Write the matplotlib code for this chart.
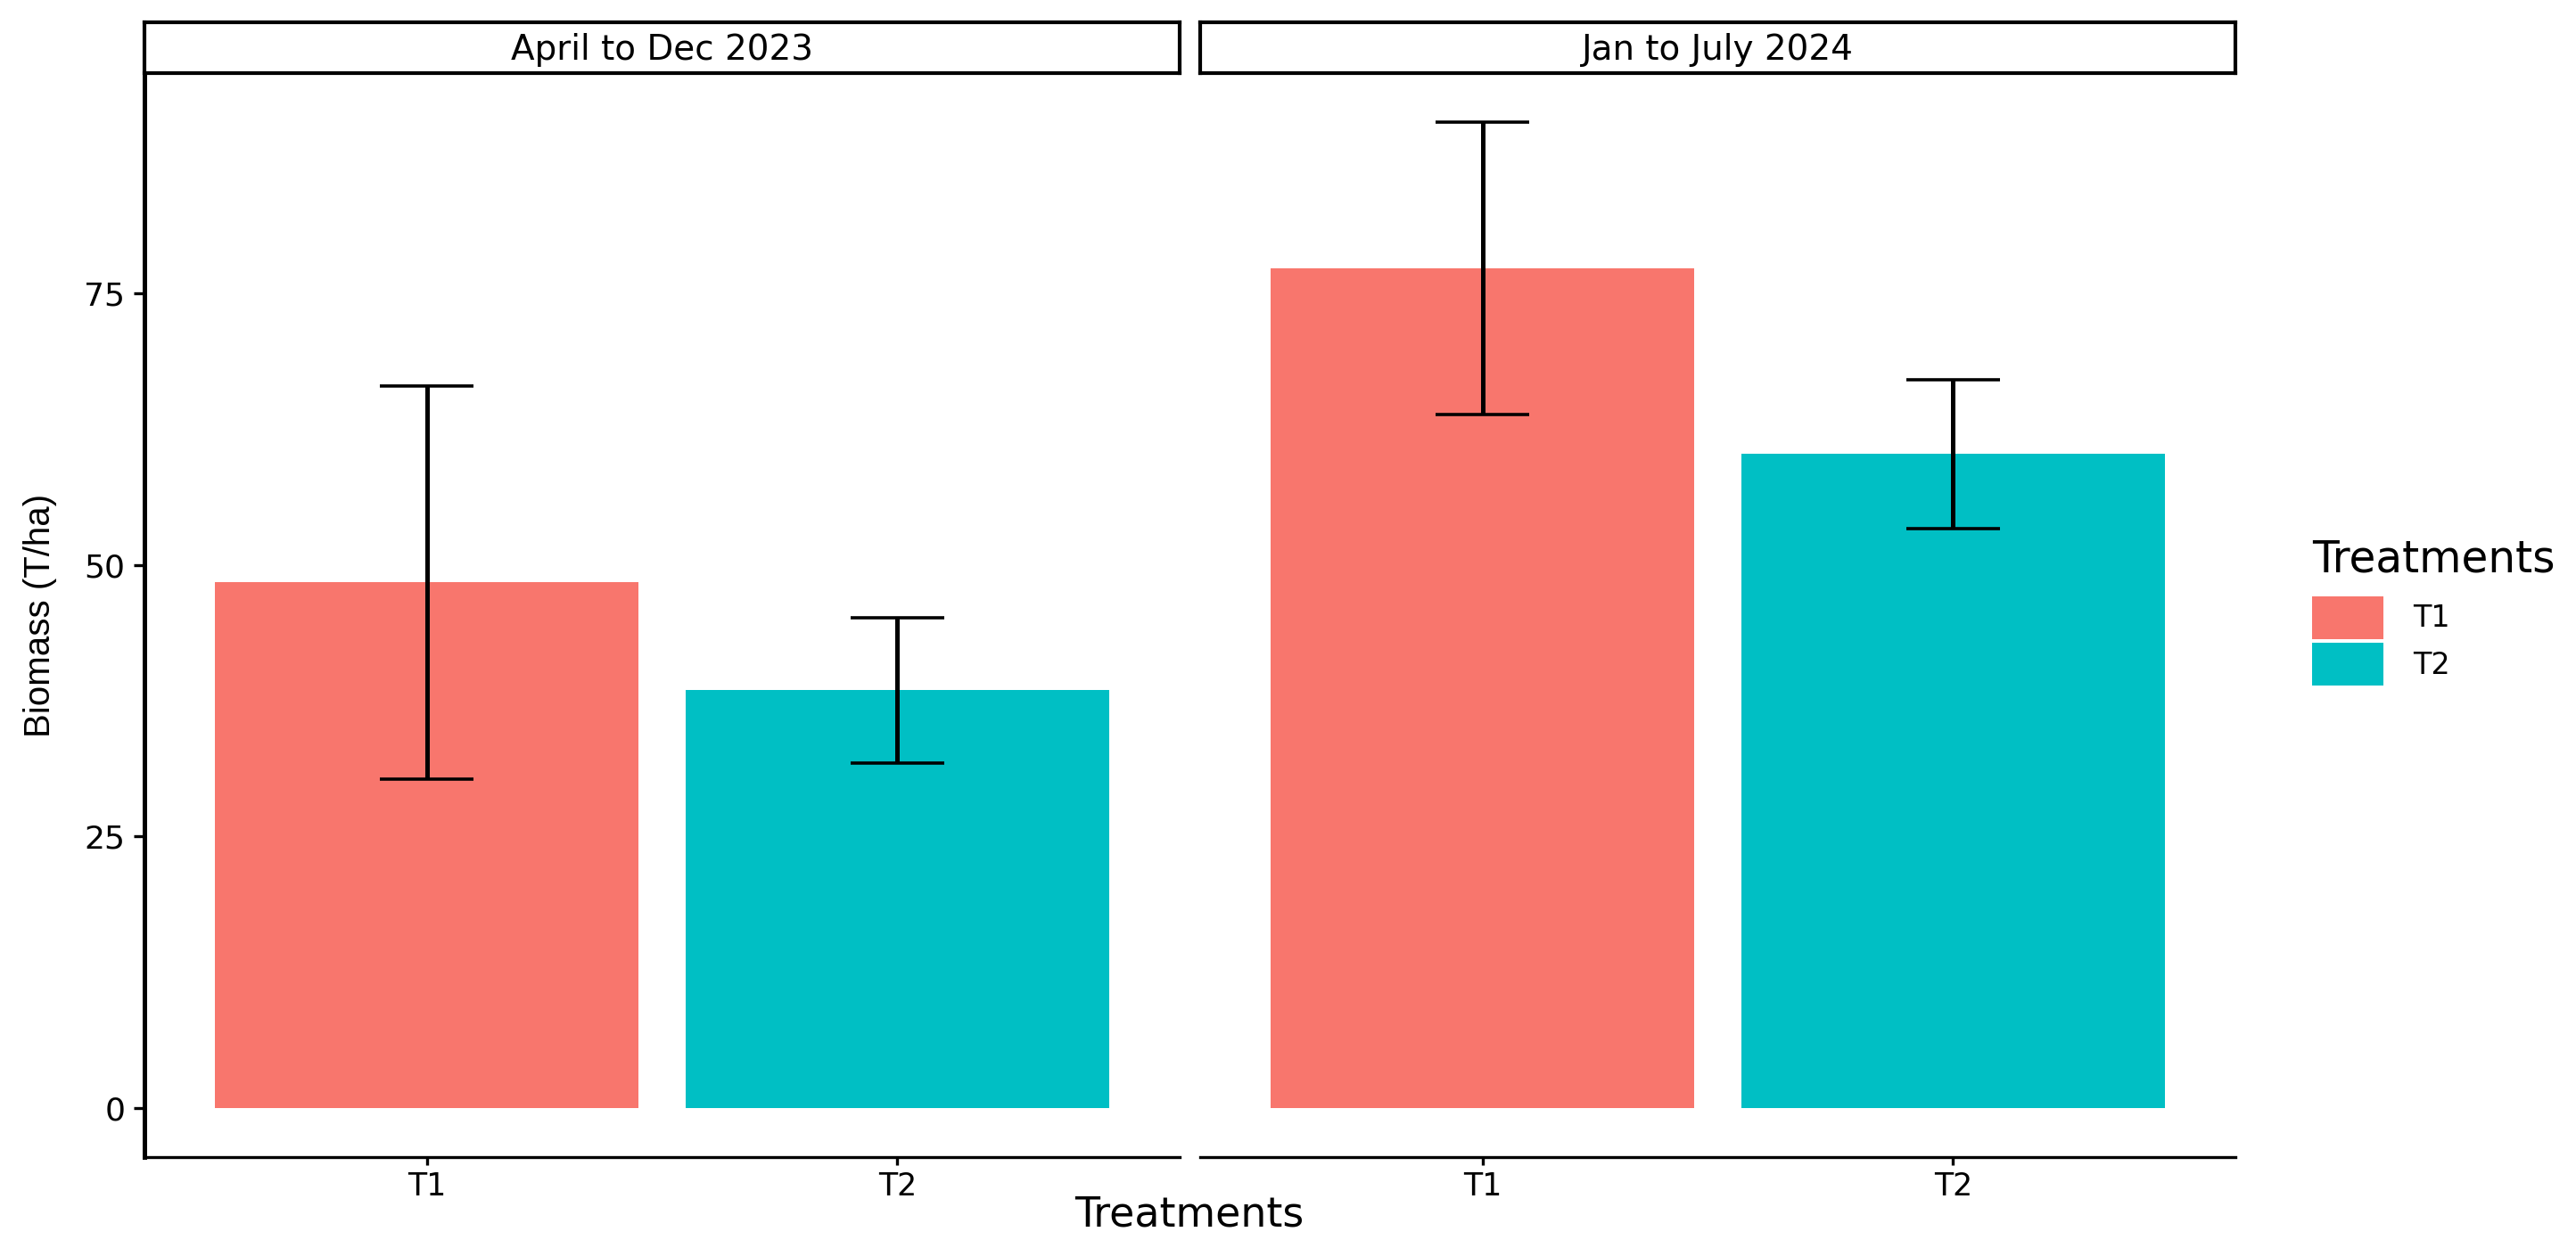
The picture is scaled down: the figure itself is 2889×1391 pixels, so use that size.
import matplotlib
matplotlib.use("Agg")
import matplotlib.pyplot as plt
from matplotlib.patches import Patch

# data
periods = ['April to Dec 2023', 'Jan to July 2024']
treatments = ['T1', 'T2']
mean_2023 = [48.4, 38.45]
se_2023 = [18.1, 6.7]
mean_2024 = [77.3, 60.2]
se_2024 = [13.45, 6.85]
yticks = [0, 25, 50, 75]

colors = ['#F8766D', '#00BFC4']
W, H = 2889, 1391

plt.rcParams['font.family'] = ['DejaVu Sans']
fig = plt.figure(figsize=(W / 100, H / 100), dpi=100)

# shared y range like ggplot (5% expansion)
top = max(max(m + e for m, e in zip(mean_2023, se_2023)),
          max(m + e for m, e in zip(mean_2024, se_2024)))
ylo, yhi = -0.05 * top, top * 1.05

panels = [(162, mean_2023, se_2023), (1346, mean_2024, se_2024)]
pw = 1161
ax_top, ax_bot = 82, 1298
strip_top = 25

for i, (px, means, errs) in enumerate(panels):
    ax = fig.add_axes([px / W, (H - ax_bot) / H, pw / W, (ax_bot - ax_top) / H])
    x = list(range(1, len(treatments) + 1))
    ax.bar(x, means, width=0.9, color=colors)
    ax.vlines(x, [m - e for m, e in zip(means, errs)], [m + e for m, e in zip(means, errs)],
              color='black', lw=3.6)
    for xi, m, e in zip(x, means, errs):
        ax.hlines([m - e, m + e], xi - 0.1, xi + 0.1, color='black', lw=2.6)
    ax.set_xlim(0.4, 2.6)
    ax.set_ylim(ylo, yhi)
    ax.set_xticks(x)
    ax.set_xticklabels(treatments, fontsize=25)
    ax.spines['top'].set_visible(False)
    ax.spines['right'].set_visible(False)
    ax.spines['bottom'].set_linewidth(2.4)
    ax.tick_params(axis='x', length=6.5, width=2.4, pad=5)
    if i == 0:
        ax.spines['left'].set_linewidth(3.6)
        ax.set_yticks(yticks)
        ax.set_yticklabels([str(t) for t in yticks], fontsize=26)
        ax.tick_params(axis='y', length=8.6, width=2.4, pad=7)
    else:
        ax.spines['left'].set_visible(False)
        ax.set_yticks([])

    # facet strip
    sx = fig.add_axes([px / W, (H - ax_top) / H, pw / W, (ax_top - strip_top) / H])
    sx.set_xticks([])
    sx.set_yticks([])
    for s in sx.spines.values():
        s.set_linewidth(3.0)
    sx.text(0.5, 0.45, periods[i], ha='center', va='center', fontsize=28,
            transform=sx.transAxes)

fig.text(45 / W, 1 - 690 / H, 'Biomass (T/ha)', rotation=90, ha='center', va='center',
         fontsize=29, family=['Liberation Sans'])
fig.text(1334 / W, 1 - 1376 / H, 'Treatments', ha='center', va='baseline', fontsize=33)

handles = [Patch(facecolor=c, edgecolor='none') for c in colors]
leg = fig.legend(handles, treatments, title='Treatments', loc='upper left',
                 bbox_to_anchor=(2593 / W, 1 - 604 / H), frameon=False, fontsize=24,
                 title_fontsize=35, handlelength=2.4, handleheight=1.85,
                 labelspacing=0.12, handletextpad=1.0, borderpad=0, borderaxespad=0)
leg._legend_box.align = 'left'
leg._legend_box.sep = 12

fig.savefig('out.png', dpi=100)
